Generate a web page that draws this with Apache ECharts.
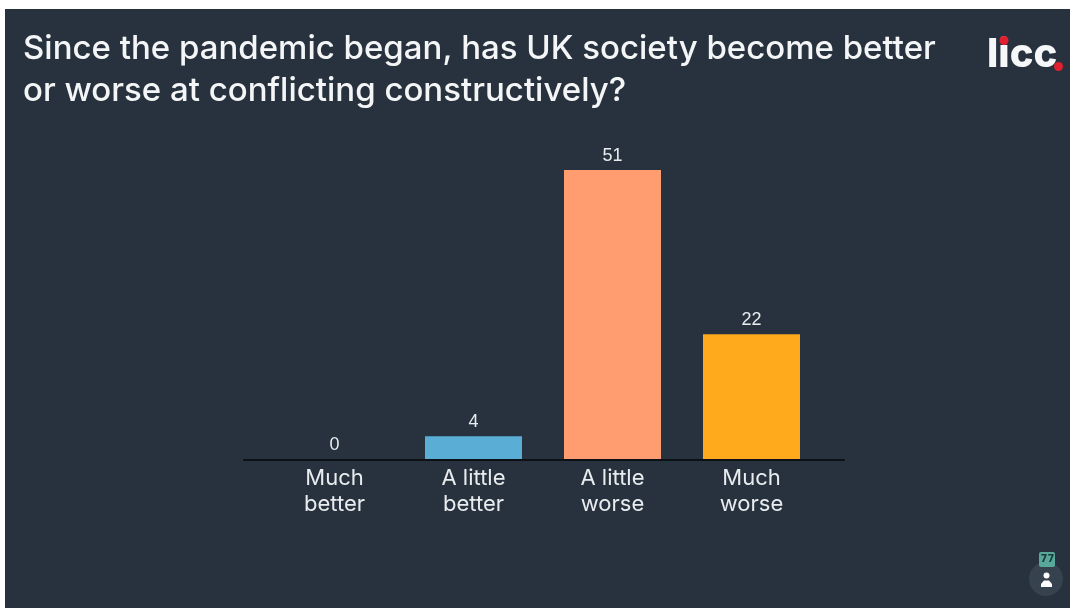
<!DOCTYPE html>
<html>
<head>
<meta charset="utf-8">
<style>
html,body{margin:0;padding:0;background:#fff;overflow:hidden}
#chart{position:absolute;left:0;top:0;width:1070px;height:608px}
</style>
<script src="https://cdn.jsdelivr.net/npm/echarts@6/dist/echarts.min.js"></script>
</head>
<body>
<div id="chart"></div>
<script>
const categories = ['Much\nbetter', 'A little\nbetter', 'A little\nworse', 'Much\nworse'];
const responses = [0, 4, 51, 22];
const barColors = ['#5aaed6', '#5aaed6', '#ff9d70', '#ffaa1c'];
const titleText = 'Since the pandemic began, has UK society become better\nor worse at conflicting constructively?';
const participantCount = '77';

const panel = '#27323e';
const ink = '#e9ecee';

const chart = echarts.init(document.getElementById('chart'), null, {renderer: 'canvas'});
chart.setOption({
  backgroundColor: '#ffffff',
  animation: false,
  grid: [
    {left: 265, width: 556, top: 119, bottom: 149},
    {left: 244, width: 600, top: 119, bottom: 148.5}
  ],
  xAxis: [
    {
      type: 'category', gridIndex: 0, data: categories,
      axisLine: {show: false}, axisTick: {show: false},
      axisLabel: {color: ink, fontFamily: 'Inter, sans-serif', fontSize: 22, lineHeight: 26, margin: 6}
    },
    {
      // Baseline that runs past the outer bars on both sides
      type: 'category', gridIndex: 1, data: [],
      axisLine: {lineStyle: {color: '#0c1116', width: 2}},
      axisTick: {show: false}, axisLabel: {show: false}, z: 5
    }
  ],
  yAxis: [
    {type: 'value', gridIndex: 0, min: 0, max: 60, show: false},
    {type: 'value', gridIndex: 1, min: 0, max: 60, show: false}
  ],
  series: [{
    type: 'bar',
    data: responses.map((v, i) => ({value: v, itemStyle: {color: barColors[i]}})),
    barWidth: 97,
    label: {
      show: true, position: 'top', distance: 5,
      color: ink, fontFamily: '"Liberation Sans", sans-serif', fontSize: 18
    }
  }],
  graphic: [
    {type: 'rect', z: -10, silent: true, shape: {x: 5, y: 9, width: 1065, height: 599}, style: {fill: panel}},
    {type: 'text', z: 10, left: 23, top: 28, style: {
      text: titleText, fill: '#f4f5f6', font: '500 33px Inter, sans-serif', lineHeight: 42
    }},
    {type: 'text', z: 10, left: 987, top: 35, style: {
      text: 'licc', fill: '#f6f7f8', font: '800 40px Inter, sans-serif'
    }},
    {type: 'circle', z: 11, shape: {cx: 1004, cy: 40.5, r: 4.5}, style: {fill: '#e0202f'}},
    {type: 'circle', z: 11, shape: {cx: 1058.5, cy: 66.5, r: 4.5}, style: {fill: '#e0202f'}},
    {type: 'circle', z: 10, shape: {cx: 1046, cy: 579, r: 17}, style: {fill: '#36434f'}},
    {type: 'rect', z: 11, shape: {x: 1039, y: 552, width: 16, height: 15, r: 2}, style: {fill: '#58a89c'}},
    {type: 'text', z: 12, left: 1040.5, top: 554.5, style: {
      text: participantCount, fill: '#1d3a3a', font: '700 10px "DejaVu Sans", sans-serif'
    }},
    {type: 'circle', z: 11, shape: {cx: 1046.5, cy: 575.5, r: 3}, style: {fill: '#ffffff'}},
    {type: 'polygon', z: 11, shape: {points: [[1041, 587], [1052, 587], [1052, 584], [1049, 580.5], [1044, 580.5], [1041, 584]]}, style: {fill: '#ffffff'}}
  ]
});
</script>
</body>
</html>
